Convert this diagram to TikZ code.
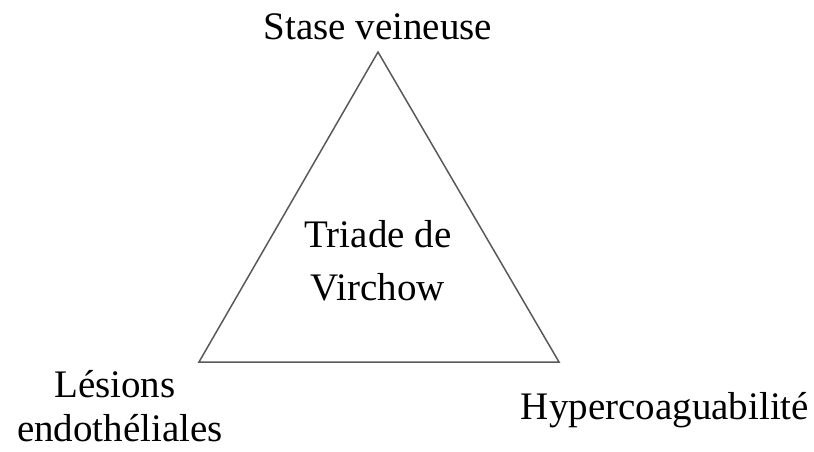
\documentclass[tikz,border=0pt]{standalone}
\usepackage{fontspec}
\setmainfont{Liberation Serif}
\begin{document}
\begin{tikzpicture}[x=1pt,y=-1pt,
  lbl/.style={anchor=base,inner sep=0pt,font=\fontsize{39}{47}\selectfont},
  edge/.style={draw=black!65,line width=1.5pt,line join=miter}]
\useasboundingbox (0,0) rectangle (814,452);
\coordinate (top) at (378,52);
\coordinate (bl) at (199,362);
\coordinate (br) at (559,362);
\draw[edge] (top) -- (br) -- (bl) -- cycle;
\node[lbl] (stase) at (378,40) {Stase veineuse};
\node[lbl] (triade) at (378,247) {Triade de};
\node[lbl] (virchow) at (378,300) {Virchow};
\node[lbl] (lesions) at (115,397) {Lésions};
\node[lbl] (endo) at (120,441) {endothéliales};
\node[lbl] (hyper) at (665,419) {Hypercoaguabilité};
\end{tikzpicture}
\end{document}
